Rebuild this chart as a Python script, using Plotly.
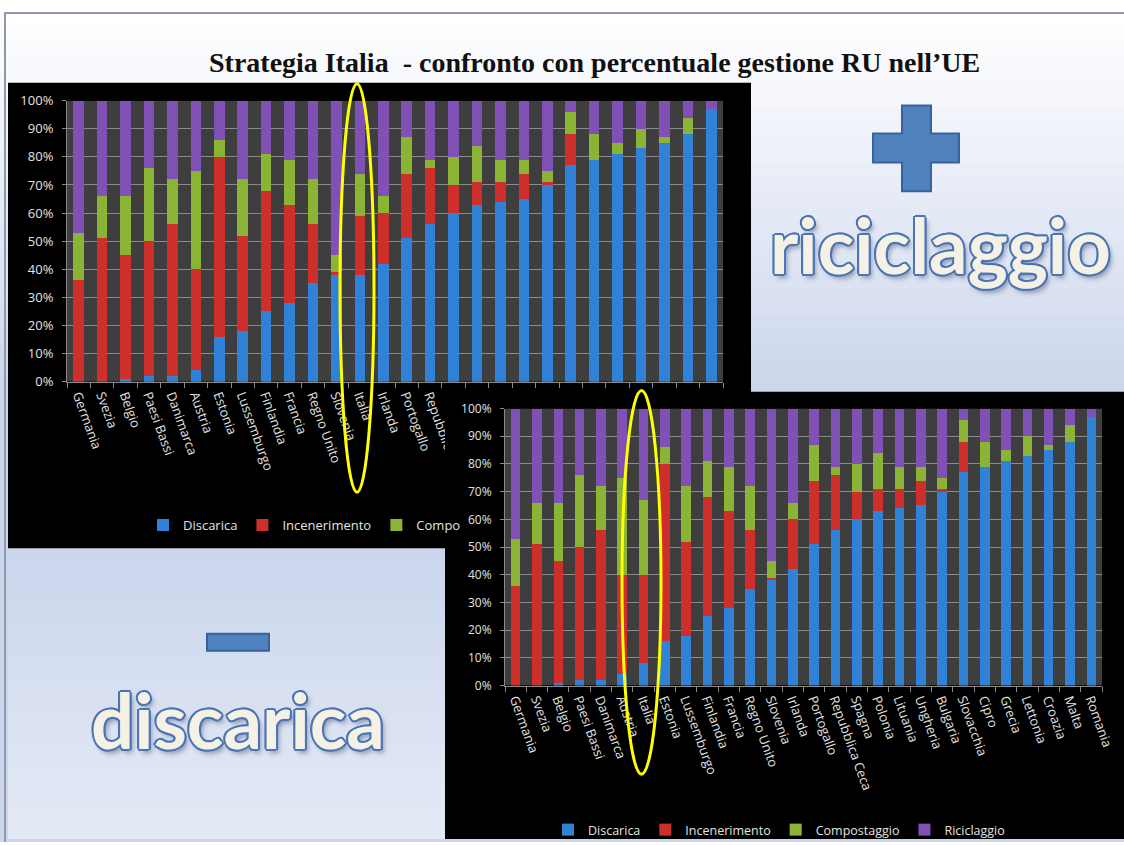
import plotly.graph_objects as go

W, H = 1124, 845

# --- Gestione dei rifiuti urbani nei paesi UE (% sul totale) ---
PAESI_UE = ["Germania", "Svezia", "Belgio", "Paesi Bassi", "Danimarca", "Austria",
            "Estonia", "Lussemburgo", "Finlandia", "Francia", "Regno Unito", "Slovenia",
            "Italia", "Irlanda", "Portogallo", "Repubblica Ceca", "Spagna", "Polonia",
            "Lituania", "Ungheria", "Bulgaria", "Slovacchia", "Cipro", "Grecia",
            "Lettonia", "Croazia", "Malta", "Romania"]
DISCARICA     = [0, 0, 1, 2, 2, 4, 16, 18, 25, 28, 35, 38, 38, 42, 51, 56, 60, 63, 64, 65, 70, 77, 79, 81, 83, 85, 88, 97]
INCENERIMENTO = [36, 51, 44, 48, 54, 36, 64, 34, 43, 35, 21, 1, 21, 18, 23, 20, 10, 8, 7, 9, 1, 11, 0, 0, 0, 0, 0, 0]
COMPOSTAGGIO  = [17, 15, 21, 26, 16, 35, 6, 20, 13, 16, 16, 6, 15, 6, 13, 3, 10, 13, 8, 5, 4, 8, 9, 4, 7, 2, 6, 0]
RICICLAGGIO   = [47, 34, 34, 24, 28, 25, 14, 28, 19, 21, 28, 55, 26, 34, 13, 21, 20, 16, 21, 21, 25, 4, 12, 15, 10, 13, 6, 3]

# Obiettivo della strategia italiana
ITALIA_STRATEGIA = {"Discarica": 8, "Incenerimento": 32, "Compostaggio": 27, "Riciclaggio": 33}

# Ordine dei paesi nel grafico con la strategia
PAESI_STRATEGIA = ["Germania", "Svezia", "Belgio", "Paesi Bassi", "Danimarca", "Austria",
                   "Italia", "Estonia", "Lussemburgo", "Finlandia", "Francia", "Regno Unito",
                   "Slovenia", "Irlanda", "Portogallo", "Repubblica Ceca", "Spagna", "Polonia",
                   "Lituania", "Ungheria", "Bulgaria", "Slovacchia", "Cipro", "Grecia",
                   "Lettonia", "Croazia", "Malta", "Romania"]

SERIE = ["Discarica", "Incenerimento", "Compostaggio", "Riciclaggio"]
LEGENDA_SUPERIORE = ["Discarica", "Incenerimento", "Compo", None]
COLORI = ["#2f82d6", "#cf2f2b", "#8bb437", "#7f51b5"]
Y_TICKS = [0, 10, 20, 30, 40, 50, 60, 70, 80, 90, 100]
Y_TICK_LABELS = ["0%", "10%", "20%", "30%", "40%", "50%", "60%", "70%", "80%", "90%", "100%"]

valori_ue = dict(zip(SERIE, [DISCARICA, INCENERIMENTO, COMPOSTAGGIO, RICICLAGGIO]))
valori_strategia = {}
for s in SERIE:
    per_paese = dict(zip(PAESI_UE, valori_ue[s]))
    per_paese["Italia"] = ITALIA_STRATEGIA[s]
    valori_strategia[s] = [per_paese[p] for p in PAESI_STRATEGIA]


def px(x):
    return x / W


def py(y):
    return 1 - y / H


def mix(c1, c2, t):
    t = max(0.0, min(1.0, t))
    a = [int(c1[i:i + 2], 16) for i in (1, 3, 5)]
    b = [int(c2[i:i + 2], 16) for i in (1, 3, 5)]
    return "rgb(%d,%d,%d)" % tuple(round(a[k] + (b[k] - a[k]) * t) for k in range(3))


fig = go.Figure()

# grafico superiore: situazione UE
for s, col, leg in zip(SERIE, COLORI, LEGENDA_SUPERIORE):
    fig.add_trace(go.Bar(
        x=PAESI_UE, y=valori_ue[s], name=leg if leg else s, marker=dict(color=col, line=dict(width=0)),
        xaxis="x", yaxis="y", legend="legend2", showlegend=leg is not None,
        hovertemplate=s + ": %{y}%<extra>%{x}</extra>"))

# pannello nero del grafico inferiore (sottografico dedicato, disegnato sopra quello superiore)
fig.add_trace(go.Scatter(x=[0.5], y=[0.5], mode="markers", marker=dict(opacity=0),
                         xaxis="x2", yaxis="y2", showlegend=False, hoverinfo="skip"))

# grafico inferiore: strategia Italia
for s, col in zip(SERIE, COLORI):
    fig.add_trace(go.Bar(
        x=PAESI_STRATEGIA, y=valori_strategia[s], name=s, marker=dict(color=col, line=dict(width=0)),
        xaxis="x3", yaxis="y3", legend="legend",
        hovertemplate=s + ": %{y}%<extra>%{x}</extra>"))

GRID = "#8a8a8a"
PLOT_BG = "#3e3e3e"
TXT = "#e2e2e2"

xcat = dict(type="category", range=[-0.5, 27.5], tickangle=70, ticks="outside",
            tickson="boundaries", ticklen=5, tickcolor=GRID, showline=True, linecolor=GRID,
            showgrid=False, automargin=False, fixedrange=True,
            tickfont=dict(family="Open Sans", size=13, color=TXT))
yperc = dict(range=[0, 100], tickmode="array", tickvals=Y_TICKS, ticktext=Y_TICK_LABELS,
             showgrid=True, gridcolor=GRID, gridwidth=1, ticks="outside", ticklen=4,
             tickcolor=GRID, showline=True, linecolor=GRID, zeroline=False,
             ticklabelstandoff=6, automargin=False, fixedrange=True)

shapes = []

# sfondo della diapositiva (sfumatura bianco -> azzurro)
N = 60
y_top, y_bot = 13, 845
for i in range(N):
    ya = y_top + (y_bot - y_top) * i / N
    yb = y_top + (y_bot - y_top) * (i + 1) / N
    shapes.append(dict(type="rect", xref="paper", yref="paper", layer="below",
                       x0=0, x1=1, y0=py(yb), y1=py(ya) + 0.001,
                       fillcolor=mix("#ffffff", "#cbd6ec", (ya - y_top) / (392 - y_top)),
                       line=dict(width=0)))
# cornice
shapes.append(dict(type="line", xref="paper", yref="paper", layer="below",
                   x0=px(4), x1=1, y0=py(13), y1=py(13), line=dict(color="#8e98a6", width=2)))
shapes.append(dict(type="line", xref="paper", yref="paper", layer="below",
                   x0=px(5), x1=px(5), y0=py(13), y1=0, line=dict(color="#8e98a6", width=2)))

# pannello nero del grafico superiore
shapes.append(dict(type="rect", xref="paper", yref="paper", layer="below",
                   x0=px(8), x1=px(751), y0=py(551), y1=py(83),
                   fillcolor="#000000", line=dict(width=0)))

# riquadro "discarica"
M = 30
for i in range(M):
    ya = 551 + (842 - 551) * i / M
    yb = 551 + (842 - 551) * (i + 1) / M
    shapes.append(dict(type="rect", xref="paper", yref="paper", layer="below",
                       x0=px(8), x1=px(445), y0=py(yb), y1=py(ya) + 0.001,
                       fillcolor=mix("#cbd6ed", "#e4eaf5", i / (M - 1)), line=dict(width=0)))

# area del grafico superiore
shapes.append(dict(type="rect", xref="x", yref="y", layer="below",
                   x0=-0.5, x1=27.5, y0=0, y1=100, fillcolor=PLOT_BG, line=dict(width=0)))
# pannello nero del grafico inferiore
shapes.append(dict(type="rect", xref="x2", yref="y2", layer="below",
                   x0=0, x1=1, y0=0, y1=1, fillcolor="#000000", line=dict(width=0)))
# area del grafico inferiore
shapes.append(dict(type="rect", xref="x3", yref="y3", layer="below",
                   x0=-0.5, x1=27.5, y0=0, y1=100, fillcolor=PLOT_BG, line=dict(width=0)))

# ellissi gialle attorno all'Italia
shapes.append(dict(type="circle", xref="paper", yref="paper", layer="above",
                   x0=px(340), x1=px(374), y0=py(494), y1=py(84),
                   line=dict(color="#ffff00", width=3)))
shapes.append(dict(type="circle", xref="paper", yref="paper", layer="above",
                   x0=px(622), x1=px(661), y0=py(777), y1=py(392),
                   line=dict(color="#ffff00", width=3)))

# segno più
plus = [(902, 106), (931, 106), (931, 134), (959, 134), (959, 163), (931, 163),
        (931, 192), (902, 192), (902, 163), (873, 163), (873, 134), (902, 134)]
path = "M " + " L ".join("%.5f %.5f" % (px(a), py(b)) for a, b in plus) + " Z"
shapes.append(dict(type="path", xref="paper", yref="paper", layer="above", path=path,
                   fillcolor="#4f81bd", line=dict(color="#36639e", width=2)))
# segno meno
shapes.append(dict(type="rect", xref="paper", yref="paper", layer="above",
                   x0=px(207), x1=px(269), y0=py(653), y1=py(636),
                   fillcolor="#4f81bd", line=dict(color="#36639e", width=2)))

outline = "#4a74b4"
shadow = ", ".join("%dpx %dpx 0 %s" % (dx, dy, outline)
                   for dx, dy in [(-2, 0), (2, 0), (0, -2), (0, 2), (-1, -1), (1, -1), (-1, 1), (1, 1),
                                  (-2, -1), (2, 1), (-1, 2), (1, -2)]) + ", 3px 4px 5px rgba(40,60,100,0.45)"
big_font = dict(family="Lato", size=76, color="#f5f2e5", weight="bold", shadow=shadow)

annotations = [
    dict(text="Strategia Italia  - confronto con percentuale gestione RU nell’UE",
         xref="paper", yref="paper", x=px(594), y=py(63), xanchor="center", yanchor="middle",
         showarrow=False, font=dict(family="Liberation Serif", size=28, color="#111111", weight="bold")),
    dict(text="riciclaggio", xref="paper", yref="paper", x=px(940), y=py(245),
         xanchor="center", yanchor="middle", showarrow=False, font=big_font),
    dict(text="discarica", xref="paper", yref="paper", x=px(238), y=py(722),
         xanchor="center", yanchor="middle", showarrow=False, font=big_font),
]

fig.update_layout(
    width=W, height=H, autosize=False, template="none",
    margin=dict(l=0, r=0, t=0, b=0, pad=0),
    paper_bgcolor="#ffffff", plot_bgcolor="rgba(0,0,0,0)",
    barmode="stack", bargap=0.55,
    font=dict(family="Open Sans", color=TXT),
    xaxis=dict(xcat, domain=[px(67), px(723)], anchor="y"),
    yaxis=dict(yperc, domain=[py(383), py(101)], anchor="x",
               tickfont=dict(family="Open Sans", size=13, color=TXT)),
    xaxis2=dict(domain=[px(445), 1], anchor="y2", range=[0, 1], visible=False, fixedrange=True),
    yaxis2=dict(domain=[py(842), py(393)], anchor="x2", range=[0, 1], visible=False, fixedrange=True),
    xaxis3=dict(xcat, domain=[px(505), px(1102)], anchor="y3"),
    yaxis3=dict(yperc, domain=[py(688), py(410)], anchor="x3",
                tickfont=dict(family="Open Sans", size=12, color=TXT)),
    legend=dict(orientation="h", traceorder="normal", x=px(779), y=py(833),
                xanchor="center", yanchor="middle", itemwidth=30,
                bgcolor="rgba(0,0,0,0)", font=dict(family="Open Sans", size=12.5, color=TXT),
                itemclick=False, itemdoubleclick=False),
    legend2=dict(orientation="h", traceorder="normal", x=px(143), y=py(527),
                 xanchor="left", yanchor="middle", itemwidth=30,
                 bgcolor="rgba(0,0,0,0)", font=dict(family="Open Sans", size=13, color=TXT),
                 itemclick=False, itemdoubleclick=False),
    shapes=shapes,
    annotations=annotations,
    hovermode="closest",
)

fig.write_html("out.html")
